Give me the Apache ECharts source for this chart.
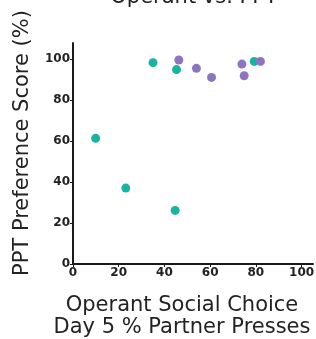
<!DOCTYPE html>
<html>
<head>
<meta charset="utf-8">
<script src="https://cdn.jsdelivr.net/npm/echarts@6/dist/echarts.min.js"></script>
<style>
  html, body { margin: 0; padding: 0; background: #fff; }
  #chart { width: 316px; height: 339px; }
</style>
</head>
<body>
<div id="chart"></div>
<script>
// teal group
const tealX = [35.0, 45.3, 9.9, 23.1, 44.7, 79.3]
const tealY = [98.4, 95.0, 61.4, 37.1, 26.2, 99.0]
// purple group
const purpleX = [46.3, 54.0, 60.6, 73.9, 74.9, 82.0]
const purpleY = [99.7, 95.6, 91.2, 97.7, 92.0, 99.0]
const ticks = [0, 20, 40, 60, 80, 100]

const pairs = (xs, ys) => xs.map((x, i) => [x, ys[i]])
const axisColor = '#1a1a1a'
const font = 'DejaVu Sans'

const chart = echarts.init(document.getElementById('chart'), null, { renderer: 'canvas' })
chart.setOption({
  animation: false,
  title: {
    text: 'Operant vs. PPT',
    left: 189,
    textAlign: 'center',
    top: -18,
    textStyle: { fontFamily: font, fontSize: 21, fontWeight: 'normal', color: '#222' }
  },
  grid: { left: 73, right: 3, top: 43, bottom: 75, outerBoundsMode: 'none', containLabel: false },
  xAxis: {
    type: 'value',
    min: 0,
    max: 105,
    interval: 20,
    name: 'Operant Social Choice\nDay 5 % Partner Presses',
    nameLocation: 'middle',
    nameGap: 31,
    nameTextStyle: { fontFamily: font, fontSize: 21, color: '#222', lineHeight: 22, verticalAlign: 'top', padding: [0, 22, 0, 0] },
    splitLine: { show: false },
    axisLine: { lineStyle: { color: axisColor, width: 2 } },
    axisTick: { show: true, length: 3, customValues: ticks, lineStyle: { color: axisColor, width: 1 } },
    axisLabel: { customValues: ticks, margin: 3, fontFamily: font, fontSize: 12, fontWeight: 'bold', color: '#222' }
  },
  yAxis: {
    type: 'value',
    min: 0,
    max: 108,
    interval: 20,
    name: 'PPT Preference Score (%)',
    nameLocation: 'middle',
    nameGap: 40,
    nameTextStyle: { fontFamily: font, fontSize: 21, color: '#222', padding: [0, 0, 0, 21] },
    splitLine: { show: false },
    axisLine: { lineStyle: { color: axisColor, width: 2 } },
    axisTick: { show: true, length: 3, customValues: ticks, lineStyle: { color: axisColor, width: 1 } },
    axisLabel: { customValues: ticks, margin: 3, fontFamily: font, fontSize: 12, fontWeight: 'bold', color: '#222' }
  },
  series: [
    {
      type: 'scatter',
      symbolSize: 9,
      itemStyle: { color: '#17b3a3', opacity: 1 },
      data: pairs(tealX, tealY)
    },
    {
      type: 'scatter',
      symbolSize: 9,
      itemStyle: { color: '#8e74bf', opacity: 1 },
      data: pairs(purpleX, purpleY)
    }
  ]
})
</script>
</body>
</html>
